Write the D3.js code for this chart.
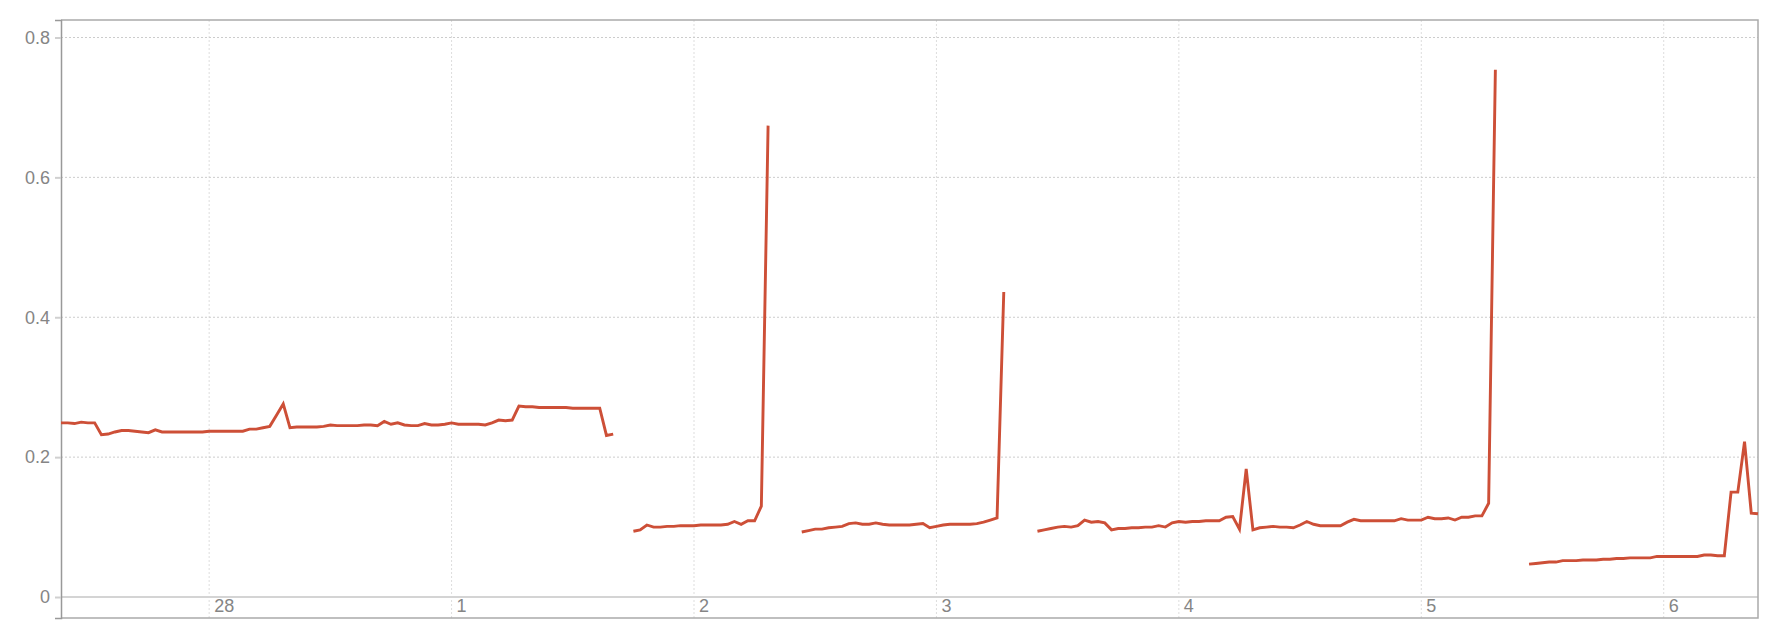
<!DOCTYPE html>
<html lang="en">
<head>
<meta charset="UTF-8">
<title>Series over 7 days</title>
<script src="https://d3js.org/d3.v7.min.js"></script>
<style>
    body { margin: 0; background: #fff; font-family: "Liberation Sans", Arial, sans-serif; }
    .grid line { stroke: #ccc; stroke-width: 1px; stroke-dasharray: 2,2; }
    .vgrid line { stroke: #ddd; stroke-width: 1px; stroke-dasharray: 2,2; }
    .frame { stroke: #aaa; stroke-width: 1.5px; fill: none; }
    .axis text { fill: #858585; font-family: "Liberation Sans", Arial, sans-serif; }
</style>
</head>
<body>
<svg id="chart" width="1776" height="624"></svg>
<script>
    // samples every 40 minutes starting here; gaps split the series
    const startTime = new Date(2023, 1, 27, 9, 20);
    const stepMinutes = 40;
    const segmentStarts = [0, 85, 110, 145, 218];

    const seg1 = [0.249, 0.249, 0.248, 0.250, 0.249, 0.249, 0.232, 0.233, 0.236, 0.238,
                  0.238, 0.237, 0.236, 0.235, 0.239, 0.236, 0.236, 0.236, 0.236, 0.236,
                  0.236, 0.236, 0.237, 0.237, 0.237, 0.237, 0.237, 0.237, 0.240, 0.240,
                  0.242, 0.244, 0.260, 0.276, 0.242, 0.243, 0.243, 0.243, 0.243, 0.244,
                  0.246, 0.245, 0.245, 0.245, 0.245, 0.246, 0.246, 0.245, 0.251, 0.247,
                  0.249, 0.246, 0.245, 0.245, 0.248, 0.246, 0.246, 0.247, 0.249, 0.247,
                  0.247, 0.247, 0.247, 0.246, 0.249, 0.253, 0.252, 0.253, 0.273, 0.272,
                  0.272, 0.271, 0.271, 0.271, 0.271, 0.271, 0.270, 0.270, 0.270, 0.270,
                  0.270, 0.231, 0.233];
    const seg2 = [0.094, 0.096, 0.103, 0.100, 0.100, 0.101, 0.101, 0.102, 0.102, 0.102,
                  0.103, 0.103, 0.103, 0.103, 0.104, 0.108, 0.104, 0.109, 0.109, 0.130,
                  0.674];
    const seg3 = [0.093, 0.095, 0.097, 0.097, 0.099, 0.100, 0.101, 0.105, 0.106, 0.104,
                  0.104, 0.106, 0.104, 0.103, 0.103, 0.103, 0.103, 0.104, 0.105, 0.099,
                  0.101, 0.103, 0.104, 0.104, 0.104, 0.104, 0.105, 0.107, 0.110, 0.113,
                  0.436];
    const seg4 = [0.094, 0.096, 0.098, 0.100, 0.101, 0.100, 0.102, 0.110, 0.107, 0.108,
                  0.106, 0.096, 0.098, 0.098, 0.099, 0.099, 0.100, 0.100, 0.102, 0.100,
                  0.106, 0.108, 0.107, 0.108, 0.108, 0.109, 0.109, 0.109, 0.114, 0.115,
                  0.097, 0.183, 0.096, 0.099, 0.100, 0.101, 0.100, 0.100, 0.099, 0.103,
                  0.108, 0.104, 0.102, 0.102, 0.102, 0.102, 0.107, 0.111, 0.109, 0.109,
                  0.109, 0.109, 0.109, 0.109, 0.112, 0.110, 0.110, 0.110, 0.114, 0.112,
                  0.112, 0.113, 0.110, 0.114, 0.114, 0.116, 0.116, 0.134, 0.754];
    const seg5 = [0.047, 0.048, 0.049, 0.050, 0.050, 0.052, 0.052, 0.052, 0.053, 0.053,
                  0.053, 0.054, 0.054, 0.055, 0.055, 0.056, 0.056, 0.056, 0.056, 0.058,
                  0.058, 0.058, 0.058, 0.058, 0.058, 0.058, 0.060, 0.060, 0.059, 0.059,
                  0.150, 0.150, 0.222, 0.120, 0.119];
    const segments = [seg1, seg2, seg3, seg4, seg5];

    const yTicks = [0, 0.2, 0.4, 0.6, 0.8];
    const totalSteps = 252;

    const margin = {top: 20, right: 18, bottom: 6, left: 61};
    const width = 1776, height = 624;
    const svg = d3.select("#chart");

    const endTime = d3.timeMinute.offset(startTime, totalSteps * stepMinutes);
    const x = d3.scaleTime()
        .domain([startTime, endTime])
        .range([margin.left, width - margin.right]);
    const y = d3.scaleLinear()
        .domain([-0.030, 0.825])
        .range([height - margin.bottom, margin.top]);

    const series = segments.map((vals, s) => vals.map((v, i) => ({
        t: d3.timeMinute.offset(startTime, (segmentStarts[s] + i) * stepMinutes),
        v: v
    })));

    // vertical dotted gridlines at each day
    const days = x.ticks(d3.timeDay.every(1));
    svg.append("g").attr("class", "vgrid")
        .selectAll("line").data(days).enter().append("line")
        .attr("x1", d => x(d)).attr("x2", d => x(d))
        .attr("y1", margin.top).attr("y2", height - margin.bottom);

    // horizontal dotted gridlines
    svg.append("g").attr("class", "grid")
        .selectAll("line").data(yTicks.filter(d => d !== 0)).enter().append("line")
        .attr("x1", margin.left).attr("x2", width - margin.right)
        .attr("y1", d => y(d)).attr("y2", d => y(d));

    // zero line
    svg.append("line")
        .attr("x1", margin.left).attr("x2", width - margin.right)
        .attr("y1", y(0)).attr("y2", y(0))
        .attr("stroke", "#d4d4d4").attr("stroke-width", 2);

    // frame: top, right, bottom
    svg.append("path").attr("class", "frame")
        .attr("d", `M${margin.left},${margin.top}H${width - margin.right}V${height - margin.bottom}H${margin.left}`);

    // day labels sitting under the zero line
    svg.append("g").attr("class", "axis")
        .selectAll("text").data(days).enter().append("text")
        .attr("x", d => x(d) + 5)
        .attr("y", y(0) + 15)
        .style("font-size", "18px")
        .text(d3.timeFormat("%-d"));

    // y axis
    const yAxis = svg.append("g").attr("class", "axis")
        .attr("transform", `translate(${margin.left},0)`)
        .call(d3.axisLeft(y)
            .tickValues(yTicks)
            .tickSize(6)
            .tickPadding(5)
            .tickFormat(d => d === 0 ? "0" : d3.format(".1f")(d)));
    yAxis.select(".domain").attr("stroke", "#999").attr("stroke-width", 1.5);
    yAxis.selectAll(".tick line").attr("stroke", "#d0d0d0").attr("stroke-width", 2);
    yAxis.selectAll(".tick text").attr("fill", "#858585").style("font-size", "18px");

    const line = d3.line()
        .x(d => x(d.t))
        .y(d => y(d.v));

    svg.append("g").selectAll("path").data(series).enter().append("path")
        .attr("d", line)
        .attr("fill", "none")
        .attr("stroke", "#cd4f37")
        .attr("stroke-width", 2.9)
        .attr("stroke-linejoin", "miter");
</script>
</body>
</html>
